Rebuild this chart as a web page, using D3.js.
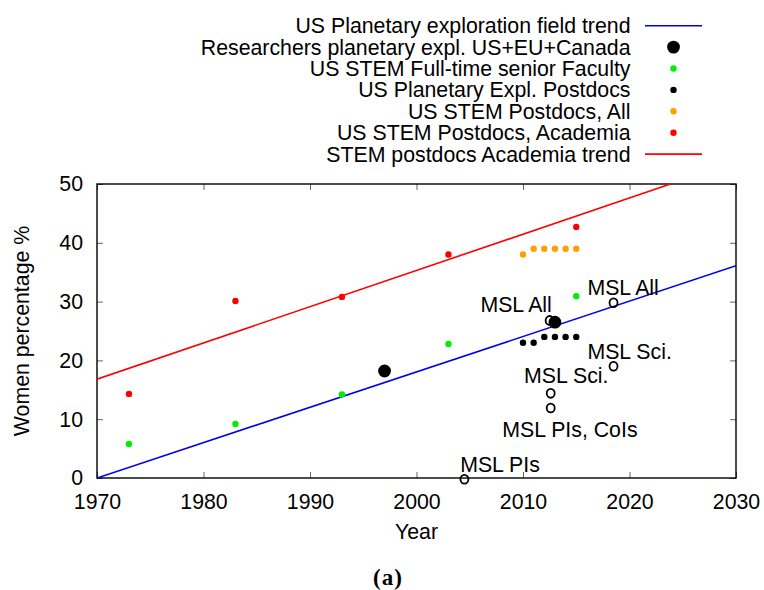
<!DOCTYPE html>
<html>
<head>
<meta charset="utf-8">
<script src="https://cdn.jsdelivr.net/npm/d3@7"></script>
<style>
  html, body { margin: 0; padding: 0; background: #fff; }
  svg { display: block; }
  text { font-family: "Liberation Sans", Arial, Helvetica, sans-serif; fill: #000; }
</style>
</head>
<body>
<div id="chart"></div>
<script>
// ---------------- data ----------------
const xTicks = [1970, 1980, 1990, 2000, 2010, 2020, 2030];
const yTicks = [0, 10, 20, 30, 40, 50];

const legendLabels = [
  "US Planetary exploration field trend",
  "Researchers planetary expl. US+EU+Canada",
  "US STEM Full-time senior Faculty",
  "US Planetary Expl. Postdocs",
  "US STEM Postdocs, All",
  "US STEM Postdocs, Academia",
  "STEM postdocs Academia trend"
];

// trend lines (endpoints)
const peTrendYears = [1970, 2030];
const peTrendPct = [0, 36.1];
const acTrendYears = [1970, 2030];
const acTrendPct = [16.8, 53.8];

// point series
const researchersYears = [1997, 2013];
const researchersPct = [18.2, 26.5];

const facultyYears = [1973, 1983, 1993, 2003, 2015];
const facultyPct = [5.8, 9.2, 14.2, 22.8, 30.9];

const pePostdocYears = [2010, 2011, 2012, 2013, 2014, 2015];
const pePostdocPct = [23, 23, 24, 24, 24, 24];

const stemPostdocYears = [2010, 2011, 2012, 2013, 2014, 2015];
const stemPostdocPct = [38, 39, 39, 39, 39, 39];

const academiaYears = [1973, 1983, 1993, 2003, 2015];
const academiaPct = [14.3, 30.1, 30.8, 38.0, 42.7];

// MSL open markers and labels
const mslYears = [2012.5, 2018.5, 2018.5, 2012.6, 2012.6, 2004.5];
const mslPct = [26.8, 29.8, 19.0, 14.4, 11.9, -0.2];

const mslLabels = ["MSL All", "MSL All", "MSL Sci.", "MSL Sci.", "MSL PIs, CoIs", "MSL PIs"];
const mslLabelYears = [2006.0, 2016.05, 2016.05, 2010.1, 2008.05, 2004.1];
const mslLabelPct = [28.2, 31.1, 20.2, 16.2, 7.0, 1.1];

// ---------------- drawing ----------------
const W = 764, H = 590;
const FS = 21.3;
const svg = d3.select("#chart").append("svg").attr("width", W).attr("height", H);

const x = d3.scaleLinear().domain([1970, 2030]).range([97, 736]);
const y = d3.scaleLinear().domain([0, 50]).range([478, 184]);

const zip = (a, b) => a.map((v, i) => [v, b[i]]);

// clip
svg.append("defs").append("clipPath").attr("id", "plotclip")
  .append("rect").attr("x", x(1970)).attr("y", y(50))
  .attr("width", x(2030) - x(1970)).attr("height", y(0) - y(50));

// axes (ticks inward, mirrored)
function styleAxis(g) {
  g.select(".domain").remove();
  g.selectAll(".tick line").attr("stroke", "#666").attr("stroke-width", 1);
  g.selectAll(".tick text").attr("font-size", FS + "px")
    .attr("font-family", '"Liberation Sans", Arial, sans-serif').attr("fill", "#000");
}
svg.append("g").attr("transform", `translate(0,${y(0)})`)
  .call(d3.axisBottom(x).tickValues(xTicks).tickFormat(d3.format("d"))
    .tickSizeInner(-6).tickSizeOuter(0).tickPadding(16))
  .call(styleAxis);
svg.append("g").attr("transform", `translate(0,${y(50)})`)
  .call(d3.axisTop(x).tickValues(xTicks).tickFormat("")
    .tickSizeInner(-6).tickSizeOuter(0))
  .call(styleAxis);
svg.append("g").attr("transform", `translate(${x(1970)},0)`)
  .call(d3.axisLeft(y).tickValues(yTicks).tickFormat(d3.format("d"))
    .tickSizeInner(-6).tickSizeOuter(0).tickPadding(14))
  .call(styleAxis);
svg.append("g").attr("transform", `translate(${x(2030)},0)`)
  .call(d3.axisRight(y).tickValues(yTicks).tickFormat("")
    .tickSizeInner(-6).tickSizeOuter(0))
  .call(styleAxis);

// border
svg.append("rect").attr("x", x(1970)).attr("y", y(50))
  .attr("width", x(2030) - x(1970)).attr("height", y(0) - y(50))
  .attr("fill", "none").attr("stroke", "#000").attr("stroke-width", 1.4);

// axis titles
svg.append("text").attr("x", (x(1970) + x(2030)) / 2).attr("y", 539)
  .attr("text-anchor", "middle").attr("font-size", FS + "px").text("Year");
svg.append("text")
  .attr("transform", `translate(29,${(y(0) + y(50)) / 2}) rotate(-90)`)
  .attr("text-anchor", "middle").attr("font-size", FS + "px").text("Women percentage %");

// caption
svg.append("text").attr("x", 388).attr("y", 585).attr("text-anchor", "middle")
  .attr("font-size", "23px").attr("font-weight", "bold")
  .style("font-family", '"Liberation Serif", "DejaVu Serif", serif')
  .attr("letter-spacing", "1px").text("(a)");

const plot = svg.append("g");
const line = d3.line().x(d => x(d[0])).y(d => y(d[1]));

// trend lines
plot.append("path").datum(zip(peTrendYears, peTrendPct))
  .attr("clip-path", "url(#plotclip)")
  .attr("d", line).attr("fill", "none").attr("stroke", "#0000ee").attr("stroke-width", 1.6);
plot.append("path").datum(zip(acTrendYears, acTrendPct))
  .attr("clip-path", "url(#plotclip)")
  .attr("d", line).attr("fill", "none").attr("stroke", "#ff0000").attr("stroke-width", 1.6);

// MSL open markers
plot.selectAll(".msl").data(zip(mslYears, mslPct)).join("ellipse")
  .attr("cx", d => x(d[0])).attr("cy", d => y(d[1]))
  .attr("rx", 4).attr("ry", 4.4)
  .attr("fill", "none").attr("stroke", "#000").attr("stroke-width", 1.8);

// MSL labels
plot.selectAll(".msllab").data(mslLabels).join("text")
  .attr("x", (d, i) => x(mslLabelYears[i])).attr("y", (d, i) => y(mslLabelPct[i]))
  .attr("font-size", FS + "px").text(d => d);

function dots(xs, vs, r, color) {
  plot.append("g").selectAll("circle").data(zip(xs, vs)).join("circle")
    .attr("cx", d => x(d[0])).attr("cy", d => y(d[1])).attr("r", r).attr("fill", color);
}
dots(researchersYears, researchersPct, 6.4, "#000");
dots(facultyYears, facultyPct, 3.2, "#00ee00");
dots(pePostdocYears, pePostdocPct, 3.2, "#000");
dots(stemPostdocYears, stemPostdocPct, 3.2, "#ffa000");
dots(academiaYears, academiaPct, 3.2, "#ff0000");

// legend
const legendTypes = ["line", "big", "dot", "dot", "dot", "dot", "line"];
const legendColors = ["#0000ee", "#000", "#00ee00", "#000", "#ffa000", "#ff0000", "#ff0000"];
const lg = svg.append("g");
legendLabels.forEach((lab, i) => {
  const cy = 25.7 + i * 21.4;
  lg.append("text").attr("x", 630.5).attr("y", cy + 7.5).attr("text-anchor", "end")
    .attr("font-size", FS + "px").text(lab);
  if (legendTypes[i] === "line") {
    lg.append("line").attr("x1", 645).attr("x2", 702).attr("y1", cy).attr("y2", cy)
      .attr("stroke", legendColors[i]).attr("stroke-width", 1.6);
  } else {
    lg.append("circle").attr("cx", 673.5).attr("cy", cy)
      .attr("r", legendTypes[i] === "big" ? 6.4 : 3.2).attr("fill", legendColors[i]);
  }
});
</script>
</body>
</html>
